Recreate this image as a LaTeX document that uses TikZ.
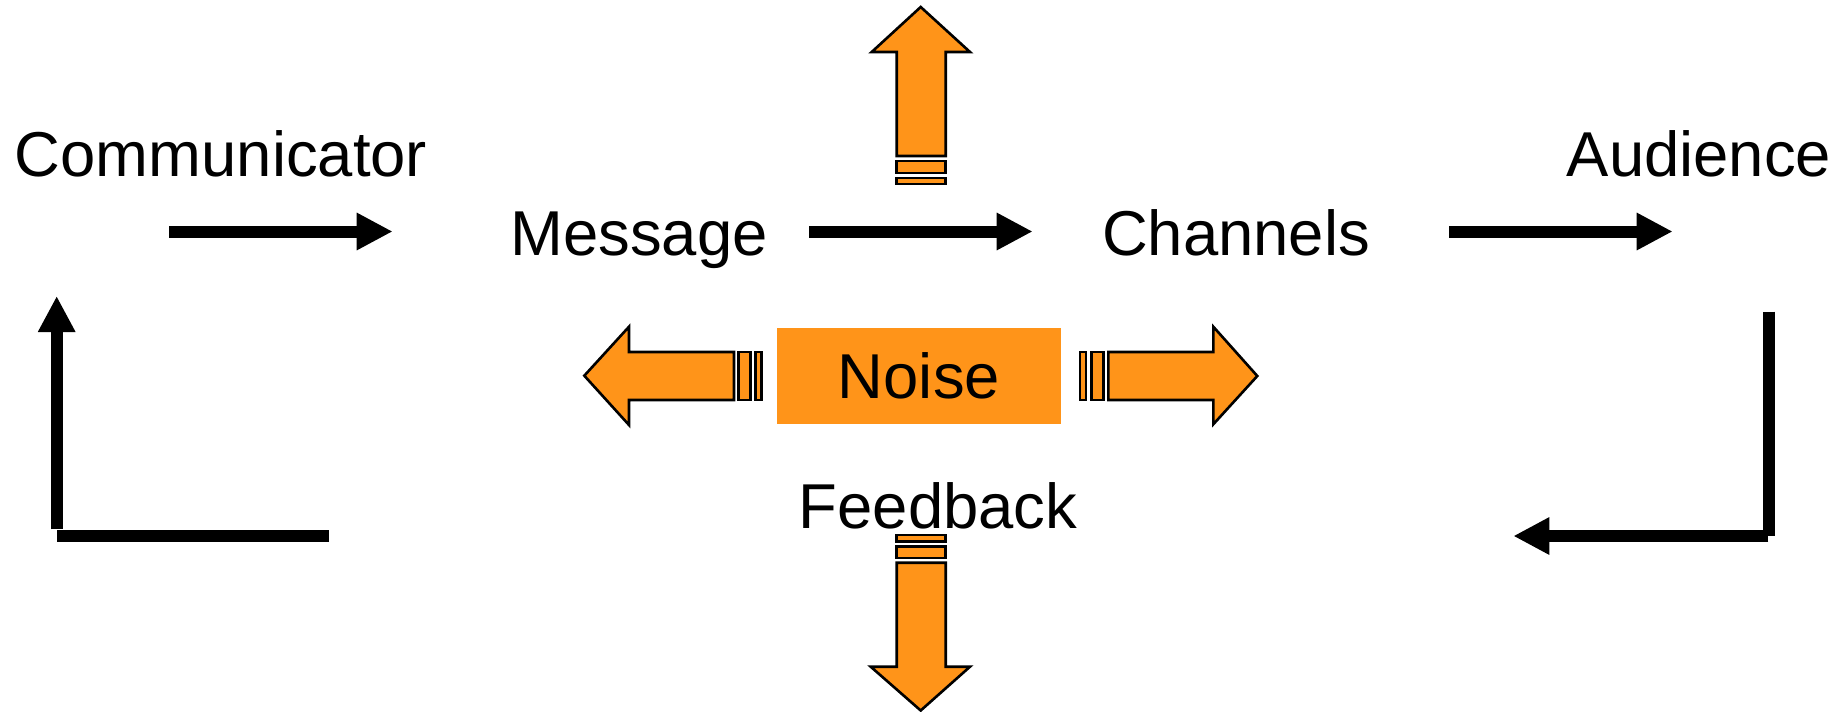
\documentclass[tikz,border=0pt]{standalone}
\usepackage{fontspec}
\setmainfont{Liberation Sans}
\usetikzlibrary{arrows.meta}
\definecolor{noiseorange}{RGB}{255,148,25}
\begin{document}
\begin{tikzpicture}[x=0.5pt,y=-0.5pt,
  lbl/.style={font=\fontsize{31.7}{36}\selectfont, inner sep=0pt, anchor=base},
  flow/.style={line width=6pt, -{Triangle[length=18pt,width=17.5pt]}},
  bar/.style={line width=6pt},
  blockarrow/.style={fill=noiseorange, draw=black, line width=1.3pt, line join=miter}]
\useasboundingbox (0,0) rectangle (1847,712);

% labels of the communication model
\node[lbl] (comm) at (221,176) {Communicator};
\node[lbl] (msg)  at (639,255) {Message};
\node[lbl] (chan) at (1236,255) {Channels};
\node[lbl] (aud)  at (1699,176) {Audience};
\node[lbl] (fb)   at (938,528) {Feedback};
\node[fill=noiseorange, inner sep=0pt, minimum width=142.2pt, minimum height=48pt,
      font=\fontsize{31.7}{36}\selectfont] (noise) at (919,376) {Noise};

% forward flow
\coordinate (f1s) at (169,231.5);   \coordinate (f1e) at (392.7,231.5);
\coordinate (f2s) at (809,231.5);   \coordinate (f2e) at (1032.7,231.5);
\coordinate (f3s) at (1449,231.5);  \coordinate (f3e) at (1672.7,231.5);
\draw[flow] (f1s) -- (f1e);
\draw[flow] (f2s) -- (f2e);
\draw[flow] (f3s) -- (f3e);

% feedback loop, right side
\coordinate (r1) at (1769,311.7);
\coordinate (r2) at (1769,536);
\coordinate (r3) at (1768.3,536);
\coordinate (r4) at (1513.3,536);
\draw[bar] (r1) -- (r2);
\draw[flow] (r3) -- (r4);

% feedback loop, left side
\coordinate (l1) at (329,536);
\coordinate (l2) at (56.7,536);
\coordinate (l3) at (56.7,529.3);
\coordinate (l4) at (56.7,296);
\draw[bar] (l1) -- (l2);
\draw[flow] (l3) -- (l4);

% noise arrows: up
\draw[blockarrow] (896.7,156) -- (896.7,52) -- (871.7,52) -- (920.7,7) -- (970,52)
  -- (945.7,52) -- (945.7,156) -- cycle;
\draw[blockarrow] (896.7,161) rectangle (945.7,173);
\draw[blockarrow] (896.7,178) rectangle (945.7,184);

% down
\draw[blockarrow] (896.7,535) rectangle (945.7,541.7);
\draw[blockarrow] (896.7,546.7) rectangle (945.7,558);
\draw[blockarrow] (896.7,562.7) -- (896.7,666.7) -- (870.7,666.7) -- (920.7,710.5)
  -- (970,666.7) -- (945.7,666.7) -- (945.7,562.7) -- cycle;

% left
\draw[blockarrow] (734,352) -- (629,352) -- (629,326.7) -- (584.3,375.7) -- (629,425)
  -- (629,400) -- (734,400) -- cycle;
\draw[blockarrow] (738.3,352) rectangle (750.3,400);
\draw[blockarrow] (755.3,352) rectangle (761.7,400);

% right
\draw[blockarrow] (1080,352) rectangle (1086,400);
\draw[blockarrow] (1091.7,352) rectangle (1103.3,400);
\draw[blockarrow] (1108.3,352) -- (1213.3,352) -- (1213.3,326.7) -- (1257.3,376)
  -- (1213.3,424.3) -- (1213.3,400) -- (1108.3,400) -- cycle;
\end{tikzpicture}
\end{document}
